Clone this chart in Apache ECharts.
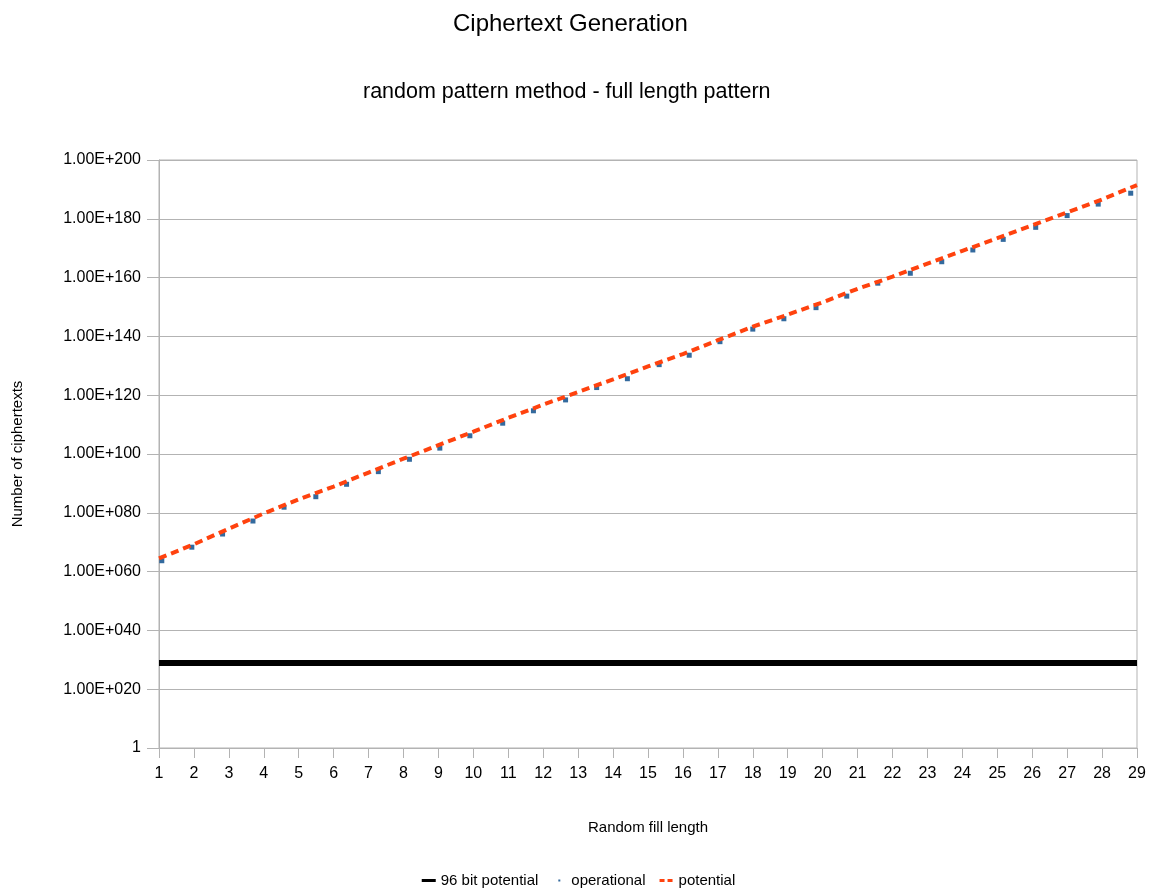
<!DOCTYPE html>
<html>
<head>
<meta charset="utf-8">
<script src="https://cdn.jsdelivr.net/npm/echarts@6/dist/echarts.min.js"></script>
<style>
  html, body { margin: 0; padding: 0; background: #fff; }
  #chart { width: 1157px; height: 895px; }
</style>
</head>
<body>
<div id="chart"></div>
<script>
// x range: random fill length
var xTicks = [1, 29];

// 96 bit potential = 2^96, flat line across the plot
var bit96 = [[1, 7.92e28], [29, 7.92e28]];

// operational: fill length and number of ciphertexts
var operationalX = [1.08, 1.94, 2.82, 3.69, 4.58, 5.49, 6.37, 7.28, 8.17, 9.04, 9.90, 10.84,
  11.72, 12.64, 13.53, 14.41, 15.32, 16.18, 17.06, 18.00, 18.89, 19.81, 20.69, 21.58,
  22.51, 23.41, 24.30, 25.17, 26.10, 27.00, 27.89, 28.82];
var operationalY = [5e63, 2e68, 6e72, 1.6e77, 8e81, 3e85, 5e89, 1e94, 1.6e98, 1e102, 1.6e106, 3e110,
  5e114, 2.5e118, 4e122, 4e125, 2.5e130, 4e133, 1.6e138, 3e142, 1e146, 6e149, 5e153, 1.25e158,
  3e161, 2.5e165, 2.5e169, 1e173, 1.25e177, 1.25e181, 1e185, 5e188];

// potential at each integer fill length 1..29
var potentialX = [1, 2, 3, 4, 5, 6, 7, 8, 9, 10, 11, 12, 13, 14, 15, 16, 17, 18, 19, 20,
  21, 22, 23, 24, 25, 26, 27, 28, 29];
var potentialY = [3e64, 2e69, 4e74, 6e79, 4e84, 8e88, 5e93, 2.5e98, 1e103, 4e107, 2e112, 6e116,
  1.25e121, 2.5e125, 6e129, 1e134, 5e138, 2e143, 2.5e147, 4e151, 1.6e156, 2e160, 6e164,
  1.25e169, 2.5e173, 6e177, 1.6e182, 4e186, 3e191];

var chart = echarts.init(document.getElementById('chart'));

function pair(xs, ys) {
  return xs.map(function (x, i) { return [x, ys[i]]; });
}

var font = 'Liberation Sans, Arial, sans-serif';

var option = {
  animation: false,
  backgroundColor: '#fff',
  textStyle: { fontFamily: font },
  title: [{
    text: 'Ciphertext Generation',
    left: 448, top: 7,
    textStyle: { fontFamily: font, fontSize: 24, fontWeight: 'normal', color: '#000' }
  }, {
    text: 'random pattern method - full length pattern',
    left: 358, top: 76,
    textStyle: { fontFamily: font, fontSize: 21.5, fontWeight: 'normal', color: '#000' }
  }],
  legend: {
    bottom: 2,
    left: 'center',
    itemGap: 14,
    itemWidth: 14,
    itemHeight: 10,
    textStyle: { fontFamily: font, fontSize: 15, color: '#000' },
    data: [
      { name: '96 bit potential', icon: 'path://M0,3.5H14V6.5H0Z M0,0H0.01V0.01H0Z M0,10H0.01V9.99H0Z', itemStyle: { color: '#000' } },
      { name: 'operational', icon: 'path://M6,4H8V6H6Z M0,0H0.01V0.01H0Z M14,10H13.99V9.99H14Z' },
      { name: 'potential', icon: 'path://M0,3.5H5V6.5H0Z M8,3.5H13V6.5H8Z M0,0H0.01V0.01H0Z M14,10H13.99V9.99H14Z' }
    ]
  },
  grid: {
    left: 159, right: 20, top: 160, bottom: 147,
    outerBoundsMode: 'none',
    containLabel: false,
    show: true, borderColor: '#b3b3b3', borderWidth: 1
  },
  xAxis: {
    type: 'value',
    min: xTicks[0], max: xTicks[1], interval: 1,
    name: 'Random fill length',
    nameLocation: 'middle', nameGap: 72,
    nameTextStyle: { fontFamily: font, fontSize: 15, color: '#000' },
    axisLine: { lineStyle: { color: '#b3b3b3', width: 1 } },
    axisTick: { length: 10, lineStyle: { color: '#b3b3b3' } },
    axisLabel: { fontSize: 16, color: '#000', margin: 18 },
    splitLine: { show: false }
  },
  yAxis: {
    type: 'log',
    logBase: 10,
    min: 1, max: 1e200,
    splitNumber: 10,
    interval: 20,
    name: 'Number of ciphertexts',
    nameLocation: 'middle', nameGap: 134,
    nameTextStyle: { fontFamily: font, fontSize: 15, color: '#000' },
    axisLine: { show: true, lineStyle: { color: '#b3b3b3', width: 1 } },
    axisTick: { show: true, length: 12, lineStyle: { color: '#b3b3b3' } },
    axisLabel: {
      fontSize: 16, color: '#000', margin: 18,
      formatter: function (v) {
        var e = Math.round(Math.log10(v));
        if (e === 0) return '1';
        var s = String(e);
        while (s.length < 3) s = '0' + s;
        return '1.00E+' + s;
      }
    },
    splitLine: { show: true, lineStyle: { color: '#b3b3b3', width: 1 } },
    minorTick: { show: false }
  },
  series: [{
    name: '96 bit potential',
    type: 'line',
    data: bit96,
    showSymbol: false,
    lineStyle: { color: '#000', width: 6 },
    itemStyle: { color: '#000' }
  }, {
    name: 'operational',
    type: 'scatter',
    data: pair(operationalX, operationalY),
    symbol: 'rect',
    symbolSize: 5,
    itemStyle: { color: '#004586' }
  }, {
    name: 'potential',
    type: 'line',
    data: pair(potentialX, potentialY),
    showSymbol: false,
    lineStyle: { color: '#ff420e', width: 4, type: [8, 5] },
    itemStyle: { color: '#ff420e' },
    z: 3
  }]
};

chart.setOption(option);
</script>
</body>
</html>
